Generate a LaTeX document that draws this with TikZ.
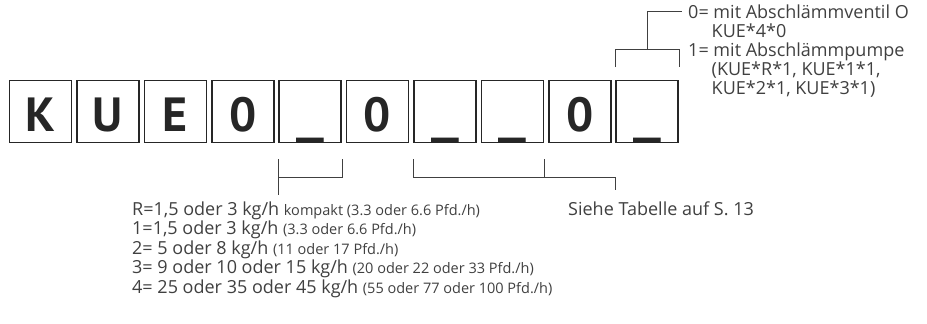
\documentclass[tikz,border=0pt]{standalone}
\usepackage{fontspec}
\usepackage{graphicx}
\setmainfont{Open Sans}
\newfontfamily\boxfont{PT Sans}
\usetikzlibrary{positioning}
\definecolor{inkgray}{HTML}{404040}
\definecolor{boxline}{HTML}{262626}
\tikzset{
  digit/.style={draw=boxline, line width=1.6pt, minimum width=62pt, minimum height=62pt,
    inner sep=0pt, text height=40pt, text depth=1pt, text=boxline,
    font=\boxfont\fontsize{48}{48}\selectfont\bfseries},
  lead/.style={draw=inkgray, line width=0.8pt},
  note/.style={text=inkgray, inner sep=0pt, anchor=base west,
    font=\fontsize{18}{19}\selectfont},
}
\newcommand{\klein}[1]{{\fontsize{14.5}{15}\selectfont #1}}
\newcommand{\blank}{\raisebox{-1.5pt}{\scalebox{1.3}[1]{\_}}}
\begin{document}
\begin{tikzpicture}[x=1pt,y=-1pt]
  \useasboundingbox (0,0) rectangle (927,324);
  % code boxes
  \foreach \ch [count=\i] in {K,U,E,0,\blank,0,\blank,\blank,0,\blank}
    \node[digit] (b\i) at ({40.5+(\i-1)*67.4},111.5) {\ch};

  % sizes
  \node[note] (l1) at (132,215) {R=1,5 oder 3 kg/h \klein{kompakt (3.3 oder 6.6 Pfd./h)}};
  \node[note] (l2) at ([yshift=-19.5pt]l1.base west) {1=1,5 oder 3 kg/h \klein{(3.3 oder 6.6 Pfd./h)}};
  \node[note] (l3) at ([yshift=-19.5pt]l2.base west) {2= 5 oder 8 kg/h \klein{(11 oder 17 Pfd./h)}};
  \node[note] (l4) at ([yshift=-19.5pt]l3.base west) {3= 9 oder 10 oder 15 kg/h \klein{(20 oder 22 oder 33 Pfd./h)}};
  \node[note] (l5) at ([yshift=-19.5pt]l4.base west) {4= 25 oder 35 oder 45 kg/h \klein{(55 oder 77 oder 100 Pfd./h)}};
  \node[note] (tab) at (568,215) {Siehe Tabelle auf S. 13};

  % options
  \node[note] (o1) at (688,18) {0= mit Abschlämmventil O};
  \node[note] (o2) at ([xshift=23.5pt,yshift=-19pt]o1.base west) {KUE*4*0};
  \node[note] (o3) at ([yshift=-38pt]o1.base west) {1= mit Abschlämmpumpe};
  \node[note] (o4) at ([xshift=23.5pt,yshift=-19pt]o3.base west) {(KUE*R*1, KUE*1*1,};
  \node[note] (o5) at ([yshift=-19pt]o4.base west) {KUE*2*1, KUE*3*1)};

  % brackets
  \coordinate (k1) at ([yshift=-34.5pt]b5.south west);
  \coordinate (r1) at ([yshift=-52pt]b5.south west);
  \draw[lead] ([yshift=-16pt]b5.south west) -- (r1);
  \draw[lead] ([yshift=-16pt]b5.south east) |- (k1);

  \coordinate (k2) at ([yshift=-34.5pt]b7.south west);
  \coordinate (t2) at ([yshift=-46.5pt]b10.south west);
  \draw[lead] ([yshift=-16pt]b7.south west) -- (k2) -| (t2);
  \draw[lead] ([yshift=-16pt]b8.south east) -- (k2 -| b8.south east);

  \draw[lead] ([yshift=12.5pt]b10.north west) -- ([yshift=30.5pt]b10.north west)
    -- ([yshift=30.5pt]b10.north east) -- ([yshift=12.5pt]b10.north east);
  \draw[lead] ([yshift=30.5pt]b10.north) |- ([xshift=-6pt]o1.west);
\end{tikzpicture}
\end{document}
